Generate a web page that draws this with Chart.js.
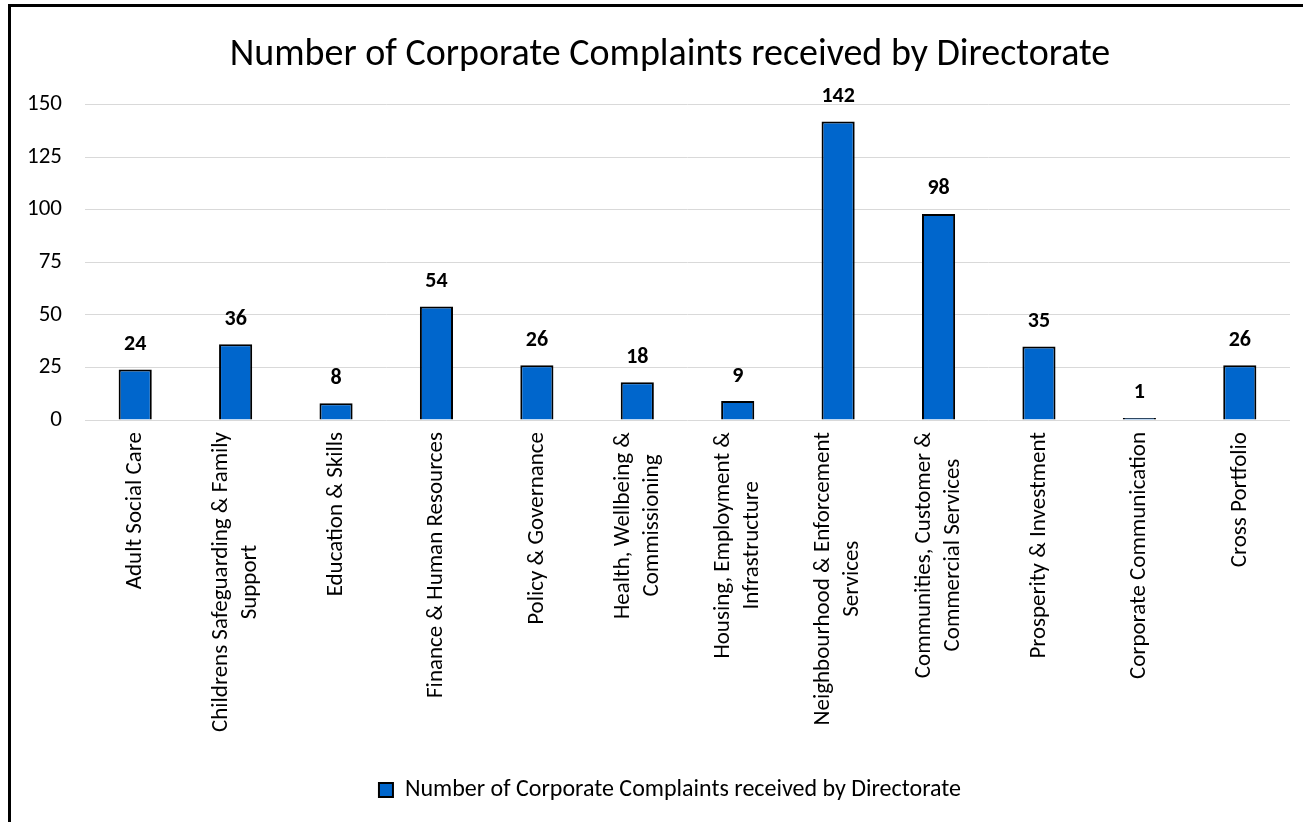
<!DOCTYPE html>
<html lang="en">
<head>
  <meta charset="UTF-8" />
  <title>Corporate Complaints by Directorate</title>
  <script src="https://cdn.jsdelivr.net/npm/chart.js"></script>
  <style>
    html, body {
      margin: 0;
      padding: 0;
      background: #fff;
      overflow: hidden;
      width: 1303px;
      height: 822px;
    }
    .frame {
      position: absolute;
      left: 8px;
      top: 4px;
      width: 1322px;
      height: 840px;
      border: 3px solid #000;
    }
    .frame canvas {
      display: block;
    }
  </style>
</head>
<body>

  <div class="frame">
    <canvas id="complaintsChart" width="1322" height="840"></canvas>
  </div>

  <script>
    // Chart data
    const chartTitle = 'Number of Corporate Complaints received by Directorate';
    const seriesName = 'Number of Corporate Complaints received by Directorate';
    const categories = [
      ['Adult Social Care'],
      ['Childrens Safeguarding & Family', 'Support'],
      ['Education & Skills'],
      ['Finance & Human Resources'],
      ['Policy & Governance'],
      ['Health, Wellbeing &', 'Commissioning'],
      ['Housing, Employment &', 'Infrastructure'],
      ['Neighbourhood & Enforcement', 'Services'],
      ['Communities, Customer &', 'Commercial Services'],
      ['Prosperity & Investment'],
      ['Corporate Communication'],
      ['Cross Portfolio']
    ];
    const complaints = [24, 36, 8, 54, 26, 18, 9, 142, 98, 35, 1, 26];
    const yTicks = [0, 25, 50, 75, 100, 125, 150];

    const FONT = 'Carlito, Calibri, Lato, sans-serif';

    // value labels above each bar
    const valueLabels = {
      id: 'valueLabels',
      afterDatasetsDraw(chart) {
        const ctx = chart.ctx;
        const meta = chart.getDatasetMeta(0);
        ctx.save();
        ctx.font = 'bold 22px ' + FONT;
        ctx.fillStyle = '#000';
        ctx.textAlign = 'center';
        ctx.textBaseline = 'bottom';
        meta.data.forEach((bar, i) => {
          ctx.fillText(String(chart.data.datasets[0].data[i]), bar.x, bar.y - 14);
        });
        ctx.restore();
      }
    };

    // vertical category labels, lines centred on each other
    const categoryLabels = {
      id: 'categoryLabels',
      afterDraw(chart) {
        const ctx = chart.ctx;
        const xScale = chart.scales.x;
        const lh = 29;
        ctx.save();
        ctx.font = '23px ' + FONT;
        ctx.fillStyle = '#000';
        ctx.textAlign = 'center';
        ctx.textBaseline = 'middle';
        categories.forEach((lines, i) => {
          const x = xScale.getPixelForValue(i);
          const w = Math.max(...lines.map(l => ctx.measureText(l).width));
          ctx.save();
          ctx.translate(x, chart.chartArea.bottom + 12);
          ctx.rotate(-Math.PI / 2);
          lines.forEach((line, j) => {
            ctx.fillText(line, -w / 2, (j - (lines.length - 1) / 2) * lh);
          });
          ctx.restore();
        });
        ctx.restore();
      }
    };

    const ctx = document.getElementById('complaintsChart').getContext('2d');

    new Chart(ctx, {
      type: 'bar',
      data: {
        labels: categories.map(c => c.join(' ')),
        datasets: [{
          label: seriesName,
          data: complaints,
          backgroundColor: '#0066CC',
          borderColor: '#000',
          borderWidth: 2,
          barPercentage: 0.33,
          categoryPercentage: 1
        }]
      },
      options: {
        responsive: false,
        animation: false,
        layout: {
          padding: { left: 10, right: 14, top: 0, bottom: 35 }
        },
        scales: {
          x: {
            grid: { display: false },
            border: { display: false },
            ticks: { display: false },
            afterFit: (scale) => { scale.height = 348; }
          },
          y: {
            min: 0,
            max: 150,
            afterBuildTicks: (scale) => { scale.ticks = yTicks.map(v => ({ value: v })); },
            afterFit: (scale) => { scale.width = 64; },
            grid: { color: '#d9d9d9', lineWidth: 1, drawTicks: false },
            border: { display: false },
            ticks: {
              padding: 23,
              color: '#000',
              font: { family: FONT, size: 23 }
            }
          },
          // empty right-hand margin inside the chart box
          yRight: {
            position: 'right',
            grid: { display: false },
            border: { display: false },
            ticks: { display: false },
            afterFit: (scale) => { scale.width = 29; }
          }
        },
        plugins: {
          title: {
            display: true,
            text: chartTitle,
            color: '#000',
            font: { family: FONT, size: 38, weight: 'normal' },
            padding: { top: 26, bottom: 26 }
          },
          legend: {
            position: 'bottom',
            labels: {
              color: '#000',
              font: { family: FONT, size: 24 },
              boxWidth: 14,
              boxHeight: 14,
              padding: 10
            }
          },
          tooltip: { enabled: false }
        }
      },
      plugins: [valueLabels, categoryLabels]
    });
  </script>
</body>
</html>
